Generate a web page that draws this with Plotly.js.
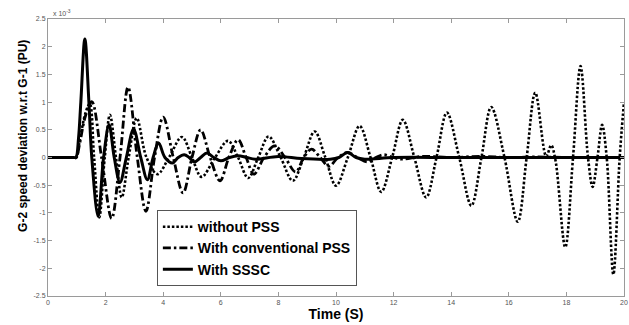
<!DOCTYPE html>
<html>
<head>
<meta charset="utf-8">
<script src="https://cdn.plot.ly/plotly-3.0.1.min.js"></script>
<style>
html,body{margin:0;padding:0;background:#fff;}
#chart{width:629px;height:325px;}
</style>
</head>
<body>
<div id="chart"></div>
<script>
// Values, in units of 1e-3 PU (peaks, troughs and zero crossings)
var tWithout = [0, 0.9, 0.98, 1.1, 1.3, 1.45, 1.6, 1.78, 1.97, 2.15, 2.36, 2.56, 2.8, 3.08, 3.42, 3.80, 4.2, 4.65, 5.0, 5.33, 5.8, 6.25, 6.6, 6.95, 7.3, 7.66, 8.08, 8.50, 8.88, 9.26, 9.63, 10.0, 10.41, 10.82, 11.2, 11.57, 11.95, 12.32, 12.72, 13.13, 13.49, 13.85, 14.28, 14.70, 15.05, 15.39, 15.85, 16.31, 16.62, 16.92, 17.30, 17.47, 17.62, 17.96, 18.23, 18.49, 18.75, 18.91, 19.08, 19.24, 19.40, 19.63, 19.85, 20];
var yWithout = [0, 0, 0, 0.3, 0.8, 0.97, 0, -1.08, 0, 0.77, 0, -0.72, 0, 0.71, 0, -0.30, 0, 0.37, 0, -0.35, 0, 0.30, 0, -0.37, 0, 0.38, 0, -0.42, 0, 0.47, 0, -0.51, 0, 0.57, 0, -0.62, 0, 0.68, 0, -0.72, 0, 0.81, 0, -0.87, 0, 0.91, 0, -1.16, 0, 1.17, 0.02, 0.22, -0.05, -1.62, 0, 1.65, 0, -0.53, 0, 0.59, 0, -2.11, 0, 1.0];

var tConv = [0, 0.9, 0.98, 1.1, 1.3, 1.52, 1.86, 2.21, 2.50, 2.78, 3.10, 3.40, 3.70, 4.00, 4.35, 4.69, 5.0, 5.30, 5.63, 5.97, 6.28, 6.60, 6.88, 7.15, 7.50, 7.87, 8.23, 8.60, 8.88, 9.15, 9.45, 9.75, 10.07, 10.40, 10.75, 11.10, 11.38, 11.65, 12.0, 12.3, 13.0, 14, 15, 16, 17, 18, 19, 20];
var yConv = [0, 0, 0, 0.25, 0.75, 1.01, 0, -1.10, 0, 1.27, 0, -0.97, 0, 0.73, 0, -0.64, 0, 0.50, 0, -0.42, 0, 0.32, 0, -0.30, 0, 0.21, 0, -0.26, 0, 0.15, 0, -0.16, 0, 0.09, 0, -0.08, 0, 0.05, 0, -0.03, 0.02, 0, 0.02, 0, 0.01, 0, 0, 0];

var tSSSC = [0, 0.9, 0.97, 1.06, 1.14, 1.28, 1.42, 1.52, 1.74, 1.93, 2.12, 2.30, 2.50, 2.72, 2.97, 3.22, 3.45, 3.65, 3.84, 4.06, 4.32, 4.52, 4.73, 4.90, 5.08, 5.30, 5.52, 5.76, 6.0, 6.3, 6.6, 6.9, 7.2, 8.0, 8.8, 9.8, 10.1, 10.4, 10.7, 11.0, 12, 14, 16, 18, 20];
var ySSSC = [0, 0, 0, 0.35, 1.0, 2.14, 1.0, 0, -1.06, 0, 0.59, 0, -0.45, 0, 0.51, 0, -0.40, 0, 0.26, 0, -0.10, 0, 0.05, 0, -0.08, 0, 0.08, 0, -0.06, 0, 0.03, 0, -0.03, 0.02, -0.02, -0.03, 0, 0.09, 0, -0.03, 0, 0, 0, 0, 0];

var seriesNames = ['without PSS', 'With conventional PSS', 'With SSSC'];
var xTickVals = [0, 2, 4, 6, 8, 10, 12, 14, 16, 18, 20];
var xTickText = ['0', '2', '4', '6', '8', '10', '12', '14', '16', '18', '20'];
var yTickVals = [-2.5, -2, -1.5, -1, -0.5, 0, 0.5, 1, 1.5, 2, 2.5];
var yTickText = ['-2.5', '-2', '-1.5', '-1', '-0.5', '0', '0.5', '1', '1.5', '2', '2.5'];

var traces = [
  {x: tWithout, y: yWithout, name: seriesNames[0], mode: 'lines',
   line: {color: '#000', width: 2.6, dash: '2.5px,2px', shape: 'spline', smoothing: 1}},
  {x: tConv, y: yConv, name: seriesNames[1], mode: 'lines',
   line: {color: '#000', width: 2.8, dash: '8px,3px,2.5px,3px', shape: 'spline', smoothing: 1}},
  {x: tSSSC, y: ySSSC, name: seriesNames[2], mode: 'lines',
   line: {color: '#000', width: 3, shape: 'spline', smoothing: 1}}
];

var axisCommon = {
  showgrid: false, zeroline: false, showline: true, linecolor: '#9a9a9a', linewidth: 1,
  mirror: 'ticks', ticks: 'inside', ticklen: 4, tickcolor: '#9a9a9a', tickwidth: 1,
  tickfont: {family: 'Arial, "Liberation Sans", sans-serif', size: 7, color: '#555'},
  tickmode: 'array', automargin: false
};

var layout = {
  width: 629, height: 325,
  margin: {l: 48, r: 5, t: 19, b: 29},
  paper_bgcolor: '#fff', plot_bgcolor: '#fff',
  showlegend: true,
  xaxis: Object.assign({}, axisCommon, {
    range: [0, 20], tickvals: xTickVals, ticktext: xTickText,
    title: {text: 'Time (S)', standoff: 2,
            font: {family: 'Arial, "Liberation Sans", sans-serif', size: 14, color: '#000', weight: 'bold'}}
  }),
  yaxis: Object.assign({}, axisCommon, {
    range: [-2.5, 2.5], tickvals: yTickVals, ticktext: yTickText
  }),
  legend: {
    x: 0.189, y: 0.31, xanchor: 'left', yanchor: 'top',
    bgcolor: '#fff', bordercolor: '#555', borderwidth: 1,
    font: {family: 'Arial, "Liberation Sans", sans-serif', size: 14, color: '#000', weight: 'bold'},
    tracegroupgap: 0
  },
  annotations: [
    {xref: 'paper', yref: 'paper', x: -0.0434, y: 0.578, xanchor: 'center', yanchor: 'middle',
     textangle: -90, showarrow: false, text: 'G-2 speed deviation w.r.t G-1 (PU)',
     font: {family: 'Arial, "Liberation Sans", sans-serif', size: 12, color: '#000', weight: 'bold'}},
    {xref: 'paper', yref: 'paper', x: 0.006, y: 1.0, xanchor: 'left', yanchor: 'bottom',
     showarrow: false, text: 'x 10<sup>-3</sup>',
     font: {family: 'Arial, "Liberation Sans", sans-serif', size: 7, color: '#555'}}
  ]
};

Plotly.newPlot('chart', traces, layout, {displayModeBar: false, staticPlot: true});
</script>
</body>
</html>
